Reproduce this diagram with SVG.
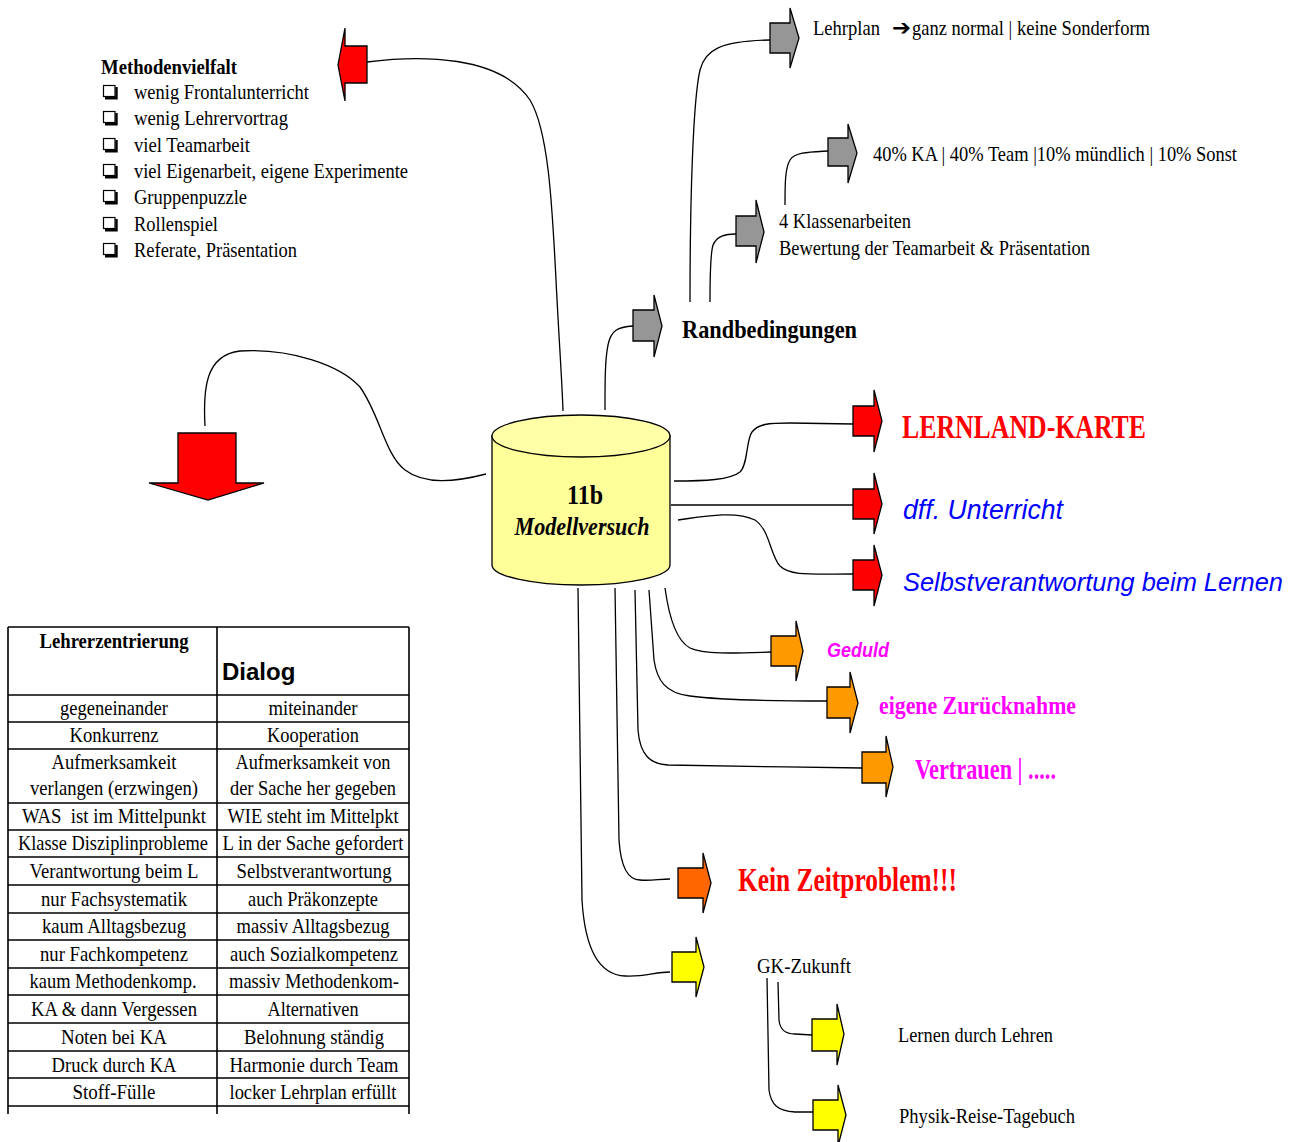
<svg xmlns="http://www.w3.org/2000/svg" xmlns:xlink="http://www.w3.org/1999/xlink" width="1304" height="1142" viewBox="0 0 1304 1142" font-size="20">
  <defs>
    <style>
      .t { font-family: "Liberation Serif", "Times New Roman", serif; fill: #000; }
      .b { font-weight: bold; }
      .i { font-style: italic; }
      .s { font-family: "Liberation Sans", Arial, sans-serif; }
      .c { text-anchor: middle; }
      .conn { fill: none; stroke: #000; stroke-width: 1.3; }
      .arr { stroke: #000; stroke-width: 1.3; stroke-linejoin: miter; }
      .gray { fill: #969696; }
      .red { fill: #ff0000; }
      .orange { fill: #ff9900; }
      .dkorange { fill: #ff6600; }
      .yellow { fill: #ffff00; }
      .grid { stroke: #000; stroke-width: 1.6; fill: none; }
    </style>
    <!-- checkbox bullet with drop shadow -->
    <g id="box">
      <rect x="0.5" y="0.5" width="11.5" height="11" fill="#fff" stroke="#000" stroke-width="1.2"/>
      <polyline points="13.5,2 13.5,13.2 2,13.2" fill="none" stroke="#000" stroke-width="2.4"/>
    </g>
  </defs>

  <rect x="0" y="0" width="1304" height="1142" fill="#fff"/>

  <!-- connectors -->
  <g id="connectors">
    <path class="conn" d="M367,62 C420,55 500,55 530,100 C548,130 552,200 556,280 C559,340 562,380 563,411"/>
    <path class="conn" d="M605,410 C605,380 605,360 608,345 C611,330 618,327 633,326"/>
    <path class="conn" d="M690,302 C690,200 693,100 700,70 C705,50 720,41 770,40"/>
    <path class="conn" d="M710,302 C710,280 710,255 713,245 C717,236 725,234 736,234"/>
    <path class="conn" d="M785,205 C785,185 785,168 790,160 C795,152 810,152 828,151"/>
    <path class="conn" d="M674,481 C705,481 730,480 740,472 C748,465 746,440 752,432 C758,424 768,423 790,423 L853,424"/>
    <path class="conn" d="M671,505 L853,505"/>
    <path class="conn" d="M678,520 C700,517 735,510 755,520 C770,530 770,555 780,566 C790,576 810,574 853,574"/>
    <path class="conn" d="M665,588 C668,610 675,640 690,648 C705,655 740,653 771,652"/>
    <path class="conn" d="M649,590 L654,660 C657,680 665,693 690,696 C720,700 780,701 827,701"/>
    <path class="conn" d="M635,590 L638,730 C640,755 650,764 668,765 C700,766 800,767 862,768"/>
    <path class="conn" d="M615,588 L619,840 C621,870 630,880 640,880 C650,881 660,879 670,879"/>
    <path class="conn" d="M578,588 L582,900 C585,950 600,975 625,976 C645,977 655,972 670,972"/>
    <path class="conn" d="M778,982 L779,1020 C780,1030 785,1034 795,1034 L812,1035"/>
    <path class="conn" d="M767,978 L769,1090 C771,1105 778,1111 795,1112 L813,1112"/>
    <path class="conn" d="M486,474 C455,482 425,485 405,470 C385,455 380,415 360,387 C340,365 290,348 240,351 C205,355 203,390 205,426"/>
  </g>

  <!-- central node -->
  <g id="node-11b">
    <path d="M492,436 L492,565 A89,20 0 0 0 670,565 L670,436 Z" fill="#ffff99" stroke="#000" stroke-width="1.3"/>
    <ellipse cx="581" cy="436" rx="89" ry="21" fill="#ffffa8" stroke="#000" stroke-width="1.3"/>
    <text class="t b c" x="585" y="504" font-size="27" textLength="36" lengthAdjust="spacingAndGlyphs">11b</text>
    <text class="t b i c" x="582" y="535" font-size="25" textLength="135" lengthAdjust="spacingAndGlyphs">Modellversuch</text>
  </g>

  <!-- Methodenvielfalt -->
  <g id="node-methodenvielfalt">
    <polygon class="arr red" points="367,46 345,46 345,28 338,65 345,101 345,83 367,83"/>
    <text class="t b" x="101" y="74" font-size="21" textLength="136" lengthAdjust="spacingAndGlyphs">Methodenvielfalt</text>
    <use xlink:href="#box" x="103" y="85"/>
    <use xlink:href="#box" x="103" y="111"/>
    <use xlink:href="#box" x="103" y="138"/>
    <use xlink:href="#box" x="103" y="164"/>
    <use xlink:href="#box" x="103" y="190"/>
    <use xlink:href="#box" x="103" y="217"/>
    <use xlink:href="#box" x="103" y="243"/>
    <text class="t" x="134" y="99" font-size="21" textLength="175" lengthAdjust="spacingAndGlyphs">wenig Frontalunterricht</text>
    <text class="t" x="134" y="125" font-size="21" textLength="154" lengthAdjust="spacingAndGlyphs">wenig Lehrervortrag</text>
    <text class="t" x="134" y="152" font-size="21" textLength="116" lengthAdjust="spacingAndGlyphs">viel Teamarbeit</text>
    <text class="t" x="134" y="178" font-size="21" textLength="274" lengthAdjust="spacingAndGlyphs">viel Eigenarbeit, eigene Experimente</text>
    <text class="t" x="134" y="204" font-size="21" textLength="113" lengthAdjust="spacingAndGlyphs">Gruppenpuzzle</text>
    <text class="t" x="134" y="231" font-size="21" textLength="84" lengthAdjust="spacingAndGlyphs">Rollenspiel</text>
    <text class="t" x="134" y="257" font-size="21" textLength="163" lengthAdjust="spacingAndGlyphs">Referate, Präsentation</text>
  </g>

  <!-- Randbedingungen branch -->
  <g id="node-randbedingungen">
    <polygon class="arr gray" points="633,310 654,310 654,295 662,326 654,357 654,341 633,341"/>
    <text class="t b" x="682" y="338" font-size="26" textLength="175" lengthAdjust="spacingAndGlyphs">Randbedingungen</text>
  </g>
  <g id="node-lehrplan">
    <polygon class="arr gray" points="770,23 790,23 790,8 799,38 790,68 790,53 770,53"/>
    <text class="t" x="813" y="35" font-size="21" textLength="67" lengthAdjust="spacingAndGlyphs">Lehrplan</text>
    <text x="892" y="35" font-family="DejaVu Sans, sans-serif" font-weight="bold" font-size="22" textLength="19" lengthAdjust="spacingAndGlyphs">➔</text>
    <text class="t" x="912" y="35" font-size="21" textLength="238" lengthAdjust="spacingAndGlyphs">ganz normal | keine Sonderform</text>
  </g>
  <g id="node-klassenarbeiten">
    <polygon class="arr gray" points="736,216 756,216 756,200 764,232 756,263 756,246 736,246"/>
    <text class="t" x="779" y="228" font-size="21" textLength="132" lengthAdjust="spacingAndGlyphs">4 Klassenarbeiten</text>
    <text class="t" x="779" y="255" font-size="21" textLength="311" lengthAdjust="spacingAndGlyphs">Bewertung der Teamarbeit &amp; Präsentation</text>
  </g>
  <g id="node-gewichtung">
    <polygon class="arr gray" points="828,138 848,138 848,124 857,153 848,183 848,166 828,166"/>
    <text class="t" x="873" y="161" font-size="21" textLength="364" lengthAdjust="spacingAndGlyphs">40% KA | 40% Team |10% mündlich | 10% Sonst</text>
  </g>

  <!-- red goals -->
  <g id="node-lernland">
    <polygon class="arr red" points="853,406 874,406 874,390 882,421 874,452 874,436 853,436"/>
    <text class="t b" x="902" y="438" font-size="34" style="fill:#ff0000" textLength="244" lengthAdjust="spacingAndGlyphs">LERNLAND-KARTE</text>
  </g>
  <g id="node-diff">
    <polygon class="arr red" points="853,489 874,489 874,473 882,504 874,534 874,519 853,519"/>
    <text class="t s i" x="903" y="519" font-size="28" style="fill:#0000ff" textLength="160" lengthAdjust="spacingAndGlyphs">dff. Unterricht</text>
  </g>
  <g id="node-selbst">
    <polygon class="arr red" points="853,560 874,560 874,545 882,575 874,606 874,590 853,590"/>
    <text class="t s i" x="903" y="591" font-size="26.5" style="fill:#0000ff" textLength="380" lengthAdjust="spacingAndGlyphs">Selbstverantwortung beim Lernen</text>
  </g>

  <!-- teacher attitudes -->
  <g id="node-geduld">
    <polygon class="arr orange" points="771,636 796,636 796,621 803,651 796,681 796,666 771,666"/>
    <text class="t s b i" x="827" y="657" font-size="21" style="fill:#ff00ff" textLength="62" lengthAdjust="spacingAndGlyphs">Geduld</text>
  </g>
  <g id="node-zuruecknahme">
    <polygon class="arr orange" points="827,687 850,687 850,672 858,703 850,733 850,718 827,718"/>
    <text class="t b" x="879" y="714" font-size="26" style="fill:#ff00ff" textLength="197" lengthAdjust="spacingAndGlyphs">eigene Zurücknahme</text>
  </g>
  <g id="node-vertrauen">
    <polygon class="arr orange" points="862,752 886,752 886,736 893,767 886,797 886,783 862,783"/>
    <text class="t b" x="915" y="779" font-size="29" style="fill:#ff00ff" textLength="141" lengthAdjust="spacingAndGlyphs">Vertrauen | .....</text>
  </g>
  <g id="node-zeit">
    <polygon class="arr dkorange" points="678,868 703,868 703,853 711,883 703,913 703,898 678,898"/>
    <text class="t b" x="738" y="891" font-size="33" style="fill:#ff0000" textLength="219" lengthAdjust="spacingAndGlyphs">Kein Zeitproblem!!!</text>
  </g>

  <!-- GK future -->
  <g id="node-gk">
    <polygon class="arr yellow" points="672,952 696,952 696,937 704,967 696,997 696,982 672,982"/>
    <text class="t" x="757" y="973" font-size="21" textLength="94" lengthAdjust="spacingAndGlyphs">GK-Zukunft</text>
  </g>
  <g id="node-ldl">
    <polygon class="arr yellow" points="812,1019 837,1019 837,1004 844,1034 837,1065 837,1051 812,1051"/>
    <text class="t" x="898" y="1042" font-size="21" textLength="155" lengthAdjust="spacingAndGlyphs">Lernen durch Lehren</text>
  </g>
  <g id="node-tagebuch">
    <polygon class="arr yellow" points="813,1100 838,1100 838,1085 846,1115 838,1146 838,1130 813,1130"/>
    <text class="t" x="899" y="1123" font-size="21" textLength="176" lengthAdjust="spacingAndGlyphs">Physik-Reise-Tagebuch</text>
  </g>

  <!-- down arrow to comparison table -->
  <g id="node-down">
    <polygon class="arr red" points="178,433 236,433 236,483 264,483 208,500 149,483 178,483"/>
  </g>

  <!-- comparison table -->
  <g id="node-table" font-size="21">
    <path class="grid" d="M8,627 H409 M8,695 H409 M8,722 H409 M8,749 H409 M8,803 H409 M8,830 H409 M8,857 H409 M8,885 H409 M8,913 H409 M8,940 H409 M8,968 H409 M8,995 H409 M8,1023 H409 M8,1051 H409 M8,1078 H409 M8,1106 H409 M8,627 V1114 M217,627 V1114 M409,627 V1114"/>
    <text class="t b c" x="114" y="648" textLength="149" lengthAdjust="spacingAndGlyphs">Lehrerzentrierung</text>
    <text class="t s b" x="222" y="680" font-size="24">Dialog</text>

    <text class="t c" x="114" y="715" textLength="108" lengthAdjust="spacingAndGlyphs">gegeneinander</text>
    <text class="t c" x="313" y="715" textLength="89" lengthAdjust="spacingAndGlyphs">miteinander</text>
    <text class="t c" x="114" y="742" textLength="89" lengthAdjust="spacingAndGlyphs">Konkurrenz</text>
    <text class="t c" x="313" y="742" textLength="92" lengthAdjust="spacingAndGlyphs">Kooperation</text>
    <text class="t c" x="114" y="769" textLength="125" lengthAdjust="spacingAndGlyphs">Aufmerksamkeit</text>
    <text class="t c" x="313" y="769" textLength="155" lengthAdjust="spacingAndGlyphs">Aufmerksamkeit von</text>
    <text class="t c" x="114" y="795" textLength="168" lengthAdjust="spacingAndGlyphs">verlangen (erzwingen)</text>
    <text class="t c" x="313" y="795" textLength="166" lengthAdjust="spacingAndGlyphs">der Sache her gegeben</text>
    <text class="t c" x="114" y="823" textLength="184" lengthAdjust="spacingAndGlyphs">WAS&#160; ist im Mittelpunkt</text>
    <text class="t c" x="313" y="823" textLength="171" lengthAdjust="spacingAndGlyphs">WIE steht im Mittelpkt</text>
    <text class="t c" x="113" y="850" textLength="190" lengthAdjust="spacingAndGlyphs">Klasse Disziplinprobleme</text>
    <text class="t c" x="313" y="850" textLength="181" lengthAdjust="spacingAndGlyphs">L in der Sache gefordert</text>
    <text class="t c" x="114" y="878" textLength="169" lengthAdjust="spacingAndGlyphs">Verantwortung beim L</text>
    <text class="t c" x="314" y="878" textLength="155" lengthAdjust="spacingAndGlyphs">Selbstverantwortung</text>
    <text class="t c" x="114" y="906" textLength="146" lengthAdjust="spacingAndGlyphs">nur Fachsystematik</text>
    <text class="t c" x="313" y="906" textLength="130" lengthAdjust="spacingAndGlyphs">auch Präkonzepte</text>
    <text class="t c" x="114" y="933" textLength="144" lengthAdjust="spacingAndGlyphs">kaum Alltagsbezug</text>
    <text class="t c" x="313" y="933" textLength="153" lengthAdjust="spacingAndGlyphs">massiv Alltagsbezug</text>
    <text class="t c" x="114" y="961" textLength="148" lengthAdjust="spacingAndGlyphs">nur Fachkompetenz</text>
    <text class="t c" x="314" y="961" textLength="168" lengthAdjust="spacingAndGlyphs">auch Sozialkompetenz</text>
    <text class="t c" x="113" y="988" textLength="167" lengthAdjust="spacingAndGlyphs">kaum Methodenkomp.</text>
    <text class="t c" x="314" y="988" textLength="170" lengthAdjust="spacingAndGlyphs">massiv Methodenkom-</text>
    <text class="t c" x="114" y="1016" textLength="166" lengthAdjust="spacingAndGlyphs">KA &amp; dann Vergessen</text>
    <text class="t c" x="313" y="1016" textLength="91" lengthAdjust="spacingAndGlyphs">Alternativen</text>
    <text class="t c" x="114" y="1044" textLength="106" lengthAdjust="spacingAndGlyphs">Noten bei KA</text>
    <text class="t c" x="314" y="1044" textLength="140" lengthAdjust="spacingAndGlyphs">Belohnung ständig</text>
    <text class="t c" x="114" y="1072" textLength="125" lengthAdjust="spacingAndGlyphs">Druck durch KA</text>
    <text class="t c" x="314" y="1072" textLength="169" lengthAdjust="spacingAndGlyphs">Harmonie durch Team</text>
    <text class="t c" x="114" y="1099" textLength="83" lengthAdjust="spacingAndGlyphs">Stoff-Fülle</text>
    <text class="t c" x="313" y="1099" textLength="167" lengthAdjust="spacingAndGlyphs">locker Lehrplan erfüllt</text>
  </g>
</svg>
